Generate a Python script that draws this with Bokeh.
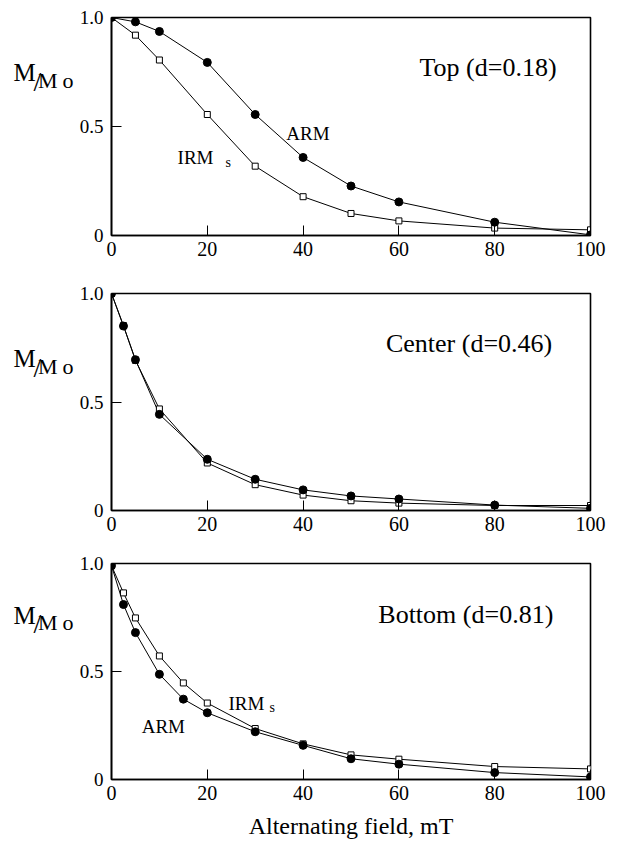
from bokeh.plotting import figure
from bokeh.models import Range1d, FixedTicker, Label
from bokeh.layouts import column, row
from bokeh.embed import file_html
from bokeh.resources import INLINE

# ---------------- data ----------------
top_x = [0, 5, 10, 20, 30, 40, 50, 60, 80, 100]
top_arm = [1.0, 0.98, 0.936, 0.794, 0.555, 0.358, 0.227, 0.154, 0.061, 0.003]
top_irm = [1.0, 0.919, 0.805, 0.555, 0.318, 0.178, 0.101, 0.067, 0.034, 0.026]

center_x = [0, 2.5, 5, 10, 20, 30, 40, 50, 60, 80, 100]
center_arm = [1.0, 0.850, 0.695, 0.443, 0.236, 0.144, 0.095, 0.067, 0.053, 0.025, 0.01]
center_irm = [1.0, 0.852, 0.692, 0.468, 0.219, 0.119, 0.071, 0.045, 0.034, 0.023, 0.023]

bottom_x = [0, 2.5, 5, 10, 15, 20, 30, 40, 50, 60, 80, 100]
bottom_arm = [0.99, 0.81, 0.68, 0.487, 0.372, 0.309, 0.221, 0.158, 0.096, 0.071, 0.032, 0.012]
bottom_irm = [0.99, 0.864, 0.748, 0.572, 0.447, 0.354, 0.236, 0.165, 0.114, 0.094, 0.06, 0.049]

x_ticks = [0, 20, 40, 60, 80, 100]
y_ticks = [0, 0.5, 1.0]
y_tick_labels = {0: "0", 0.5: "0.5", 1: "1.0"}
titles = ["Top (d=0.18)", "Center (d=0.46)", "Bottom (d=0.81)"]
x_label = "Alternating field, mT"

FONT = "Liberation Serif"
LABEL_W = 76          # width of the left strip holding the "M/Mo" label
FRAME_LEFT = 109
MAIN_W = (FRAME_LEFT - LABEL_W) + 481 + 20


def lab(p, **kw):
    base = dict(text_font=FONT, text_baseline="alphabetic", text_color="black")
    base.update(kw)
    p.add_layout(Label(**base))


def ylabel_strip(height, from_top):
    """Narrow figure that carries the horizontal M/Mo axis label."""
    s = figure(width=LABEL_W, height=height, output_backend="svg",
               toolbar_location=None, x_axis_type=None, y_axis_type=None,
               x_range=Range1d(0, LABEL_W), y_range=Range1d(0, height),
               min_border_left=0, min_border_right=0,
               min_border_top=0, min_border_bottom=0)
    s.outline_line_color = None
    s.background_fill_color = "white"
    s.border_fill_color = "white"
    s.xgrid.visible = False
    s.ygrid.visible = False
    base = height - from_top
    lab(s, x=13, y=base, text="M", text_font_size="25px")
    lab(s, x=33, y=base - 11, text="/", text_font_size="28px")
    lab(s, x=37.5, y=base - 10, text="M", text_font_size="22px")
    lab(s, x=62, y=base - 10, text="o", text_font_size="22px")
    return s


def make_panel(xs, arm, irm, title, title_pos, height, b_top, b_bottom,
               m_off, series_labels=None, xlabel=None):
    p = figure(width=MAIN_W, height=height, output_backend="svg",
               toolbar_location=None, x_range=Range1d(0, 100),
               y_range=Range1d(0, 1.0))
    p.min_border_left = FRAME_LEFT - LABEL_W
    p.min_border_right = 20
    p.min_border_top = b_top
    p.min_border_bottom = b_bottom
    p.background_fill_color = "white"
    p.border_fill_color = "white"
    p.outline_line_color = "black"
    p.outline_line_width = 1.6
    p.xgrid.visible = False
    p.ygrid.visible = False

    for ax in (p.xaxis[0], p.yaxis[0]):
        ax.axis_line_color = "black"
        ax.axis_line_width = 1.6
        ax.major_tick_in = 10
        ax.major_tick_out = 0
        ax.major_tick_line_color = "black"
        ax.major_tick_line_width = 1
        ax.minor_tick_line_color = None
        ax.major_label_text_font = FONT
        ax.major_label_text_color = "black"
    p.xaxis.ticker = FixedTicker(ticks=x_ticks)
    p.yaxis.ticker = FixedTicker(ticks=y_ticks)
    p.yaxis.major_label_overrides = y_tick_labels
    p.xaxis.major_label_text_font_size = "20px"
    p.yaxis.major_label_text_font_size = "19px"
    p.xaxis.major_label_standoff = 6
    p.yaxis.major_label_standoff = 8
    if xlabel:
        p.xaxis.axis_label = xlabel
        p.xaxis.axis_label_text_font = FONT
        p.xaxis.axis_label_text_font_size = "24px"
        p.xaxis.axis_label_text_font_style = "normal"
        p.xaxis.axis_label_text_color = "black"
        p.xaxis.axis_label_standoff = 10

    p.line(xs, arm, line_color="black", line_width=1)
    p.line(xs, irm, line_color="black", line_width=1)
    p.scatter(xs, irm, marker="square", size=6, fill_color="white",
              line_color="black", line_width=1)
    p.scatter(xs, arm, marker="circle", size=8, fill_color="black",
              line_color="black")

    lab(p, x=title_pos[0], y=title_pos[1], text=title, text_font_size="26px")
    if series_labels:
        for (tx, ty, txt, fs) in series_labels:
            lab(p, x=tx, y=ty, text=txt, text_font_size=fs)

    strip = ylabel_strip(height, b_top + m_off)
    return row(strip, p, spacing=0)


r1 = make_panel(top_x, top_arm, top_irm, titles[0], (64.3, 0.77),
                height=17 + 218 + 40, b_top=17, b_bottom=40, m_off=53,
                series_labels=[(36.5, 0.47, "ARM", "19px"),
                               (13.8, 0.358, "IRM", "19px"),
                               (23.8, 0.335, "s", "14px")])
r2 = make_panel(center_x, center_arm, center_irm, titles[1], (57.3, 0.77),
                height=18 + 217 + 38, b_top=18, b_bottom=38, m_off=64)
r3 = make_panel(bottom_x, bottom_arm, bottom_irm, titles[2], (55.7, 0.765),
                height=15 + 216 + 62, b_top=15, b_bottom=62, m_off=55,
                series_labels=[(24.4, 0.352, "IRM", "19px"),
                               (33.0, 0.332, "s", "14px"),
                               (6.3, 0.244, "ARM", "19px")],
                xlabel=x_label)

layout = column(r1, r2, r3, spacing=0)
open("out.html", "w").write(file_html(layout, INLINE))
